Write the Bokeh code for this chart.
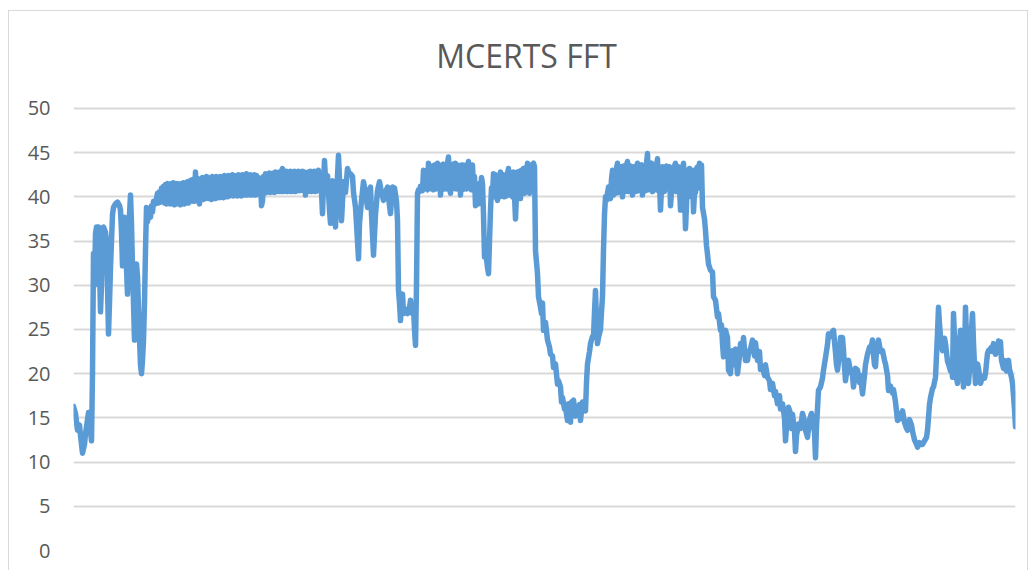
from bokeh.plotting import figure
from bokeh.models import Range1d, FixedTicker, Label
from bokeh.embed import file_html
from bokeh.resources import INLINE

title_text = "MCERTS FFT"
y_ticks = [0, 5, 10, 15, 20, 25, 30, 35, 40, 45, 50]

# ---- segment A: start-up (explicit sample index) ----
a_sample = [
    0, 2, 4, 6, 7, 9, 11, 12, 14, 15,
    17, 18, 19, 20, 21, 22, 23, 25, 26, 27,
    28, 29, 30, 32, 33, 34, 35, 36, 37, 38,
    39, 40, 42, 44, 46, 47, 48, 49, 50, 51,
    52, 53, 54, 55, 56, 57, 58, 59, 60, 61,
    62, 63, 64, 65, 66, 67, 68, 69, 70, 71,
    72, 73, 74, 75, 77, 78, 79, 80, 82, 84,
]
a_fft = [
    16.3, 15.5, 13.6, 14.2, 13.0, 11.0, 12.0, 13.2, 14.8, 15.6,
    13.5, 12.4, 20.0, 33.6, 30.0, 35.8, 36.6, 36.6, 32.0, 27.0,
    30.0, 35.0, 36.6, 36.0, 35.0, 30.0, 24.5, 28.0, 32.0, 35.0,
    38.0, 38.8, 39.2, 39.4, 39.0, 38.5, 36.0, 32.2, 35.0, 37.7,
    36.0, 32.0, 29.0, 34.0, 38.0, 40.2, 37.0, 32.0, 28.0, 23.8,
    28.0, 32.4, 31.0, 27.5, 24.0, 21.0, 20.0, 21.5, 23.8, 28.0,
    34.0, 38.8, 37.2, 38.2, 37.7, 39.0, 38.3, 39.5, 39.2, 40.4,
]

# ---- segment B: first plateau, one reading per sample from b_start ----
b_start = 85
b_fft = [
    39.3, 40.6, 39.4, 41.0, 39.5, 41.2, 39.3, 41.4, 39.2, 41.5,
    39.3, 41.4, 39.2, 41.5, 39.3, 41.6, 39.1, 41.4, 39.2, 41.5,
    39.4, 41.3, 39.1, 41.5, 39.3, 41.6, 39.2, 41.5, 39.4, 41.7,
    39.3, 41.8, 39.5, 41.9, 39.6, 42.0, 39.5, 42.8, 39.7, 42.1,
    39.6, 39.2, 42.0, 39.8, 42.2, 39.7, 42.1, 39.8, 42.3, 39.9,
    42.2, 39.8, 42.1, 39.7, 42.3, 39.9, 42.2, 39.8, 42.3, 40.0,
    42.2, 39.9, 42.3, 40.0, 42.2, 39.9, 42.4, 40.1, 42.3, 40.0,
    42.4, 40.1, 42.3, 40.2, 42.5, 40.1, 42.4, 40.2, 42.3, 40.1,
    42.5, 40.2, 42.4, 40.1, 42.5, 40.3, 42.4, 40.2, 42.6, 40.2,
    42.4, 40.3, 42.5, 40.2, 42.4, 40.3, 42.5, 40.2, 42.4, 40.3,
    42.2, 40.4, 41.8, 39.0, 39.5, 42.3, 40.4, 42.6, 40.5, 42.5,
    40.6, 42.7, 40.5, 42.6, 40.6, 42.7, 40.5, 42.8, 40.6, 42.7,
    40.7, 42.8, 40.6, 42.9, 43.2, 40.6, 42.8, 40.7, 42.9, 40.6,
    42.8, 40.7, 42.9, 40.6, 42.8, 40.7, 42.9, 40.6, 42.8, 40.8,
    42.9, 40.7, 42.8, 40.8, 42.9, 40.7, 42.8, 40.2, 42.7, 40.6,
    42.8, 40.7, 42.9, 40.6, 42.8, 40.7, 42.9, 40.6, 42.8, 40.7,
    43.0, 41.0, 42.6, 40.5, 38.1, 41.5, 44.1, 42.0, 41.0, 42.4,
    40.5, 38.5, 37.0,
]

# ---- segment C: disturbed section and first drop ----
c_sample = [
    258, 259, 260, 262, 263, 265, 266, 268, 269, 270,
    272, 274, 276, 277, 279, 280, 282, 284, 285, 286,
    288, 290, 292, 294, 295, 297, 298, 300, 302, 304,
    306, 308, 310, 312, 314, 316, 317, 319, 321, 323,
    324, 325, 326, 327, 328, 329, 330, 332, 334, 336,
    337, 338, 339, 340, 341, 342, 343,
]
c_fft = [
    41.5, 41.8, 39.0, 36.6, 40.0, 44.7, 42.0, 37.3, 39.5, 41.7,
    40.5, 43.2, 42.5, 42.6, 42.3, 40.5, 38.8, 35.0, 33.0, 37.0,
    39.6, 41.7, 40.5, 38.8, 40.5, 41.1, 38.0, 33.4, 38.0, 40.7,
    41.7, 40.5, 39.6, 40.5, 41.1, 39.0, 38.1, 41.1, 41.0, 39.5,
    37.3, 29.4, 28.0, 26.0, 28.5, 29.0, 26.8, 27.3, 26.8, 27.5,
    28.3, 27.0, 26.8, 27.5, 25.0, 23.2, 30.0,
]

# ---- segment D: second and third plateaus, one reading per sample ----
d_start = 344
d_fft = [
    40.4, 40.8, 40.6, 41.2, 41.0, 40.7, 43.0, 41.2, 42.5, 41.0,
    40.8, 43.8, 41.0, 42.8, 40.9, 43.5, 40.8, 43.6, 40.9, 43.4,
    43.8, 40.9, 43.6, 40.2, 43.5, 40.8, 43.7, 41.0, 43.6, 40.9,
    43.8, 44.5, 41.0, 40.4, 43.6, 40.9, 43.7, 41.0, 43.8, 40.9,
    43.6, 41.0, 43.5, 40.2, 43.6, 40.8, 43.6, 41.0, 43.5, 40.9,
    43.6, 44.0, 41.0, 43.4, 40.8, 43.6, 41.0, 42.3, 39.0, 40.5,
    39.8, 39.2, 41.5, 40.6, 42.2, 41.5, 38.0, 33.2, 34.0, 33.0,
    32.0, 31.3, 35.0, 38.5, 41.0, 40.2, 42.6, 40.0, 42.5, 40.1,
    39.6, 42.4, 40.0, 42.8, 40.1, 40.2, 42.5, 40.0, 42.2, 40.1,
    42.6, 43.2, 40.2, 42.7, 40.3, 40.0, 42.8, 40.2, 37.5, 40.4,
    42.8, 40.3, 42.9, 39.8, 43.0, 40.5, 43.2, 40.4, 43.3, 40.6,
    43.8, 41.0, 40.4, 43.6, 41.0, 43.6, 43.8, 43.4,
]

# ---- segment E: long descent and valley ----
e_sample = [
    462, 464, 465, 467, 468, 469, 470, 472, 474,
    476, 477, 479, 480, 482, 484, 485, 487, 488, 489,
    491, 492, 494, 495, 497, 498, 500, 502, 504, 506,
    507, 509, 510, 512, 513, 514, 516, 517, 519, 520,
    521, 522, 523, 524, 525, 527, 528, 529, 530, 531,
]
e_fft = [
    33.9, 31.3, 28.7, 27.5, 26.8, 28.0, 24.9, 25.8, 23.8,
    23.0, 22.2, 22.0, 20.7, 21.1, 18.8, 19.2, 18.5, 16.8, 17.3,
    16.0, 16.2, 14.7, 16.6, 14.5, 16.8, 17.0, 15.2, 15.8, 16.5,
    14.7, 16.8, 16.5, 15.8, 19.0, 21.1, 22.5, 23.4, 24.2, 24.1,
    27.0, 29.4, 26.0, 23.4, 24.1, 25.0, 27.0, 28.7, 34.0, 38.0,
]

# ---- segment F: fourth plateau, one reading per sample ----
f_start = 532
f_fft = [
    40.0, 39.6, 40.4, 41.1, 40.2, 39.8, 42.0, 43.0, 40.2, 42.6,
    40.4, 43.2, 43.8, 40.5, 41.5, 43.4, 42.2, 40.0, 43.5, 42.8,
    40.6, 43.6, 44.0, 40.6, 41.3, 43.5, 43.2, 40.2, 43.4, 42.6,
    40.6, 43.4, 43.8, 40.7, 41.6, 43.5, 43.6, 40.2, 43.4, 42.6,
    40.7, 43.8, 44.9, 40.8, 42.0, 43.6, 43.8, 40.6, 43.4, 43.2,
    40.8, 43.6, 44.3, 40.7, 41.5, 38.5, 41.0, 43.4, 43.0, 40.6,
    41.6, 43.5, 43.3, 41.0, 43.4, 39.0, 40.5, 42.5, 40.8, 43.5,
    43.8, 40.6, 40.8, 43.4, 41.2, 38.5, 40.6, 42.6, 43.8, 40.5,
    36.4, 39.0, 43.0, 40.0, 43.2, 42.5, 40.2, 43.0, 38.3, 40.5,
    40.5, 43.2, 43.4, 41.0, 43.8, 41.5, 43.6, 38.8,
]

# ---- segment G: final decline and lower-level cycles ----
g_sample = [
    631, 632, 633, 634, 635, 637, 639, 640, 642, 644,
    645, 647, 648, 649, 650, 652, 654, 655, 657, 658,
    659, 661, 662, 664, 666, 667, 669, 670, 672, 674,
    675, 677, 679, 681, 682, 684, 686, 687, 689, 691,
    692, 694, 696, 697, 699, 701, 702, 704, 706, 707,
    709, 711, 712, 713, 715, 717, 718, 719, 721, 722,
    723, 725, 727, 729, 730, 732, 734, 736, 738, 739,
    741, 742, 743, 745, 747, 749, 750, 752, 754, 755,
    757, 759, 760, 762, 763, 764, 766, 767, 769, 770,
    771, 772, 774, 775, 777, 779, 780, 782, 784, 786,
    787, 789, 791, 792, 794, 796, 797, 799, 800, 801,
    802, 803, 805, 807, 809, 811, 812, 814, 815, 817,
    819, 820, 822, 824, 825, 827, 829, 831, 833, 834,
    836, 838, 839, 841, 843, 844, 846, 848, 849, 851,
    853, 854, 856, 857, 859, 860, 862, 864, 865, 866,
    867, 868, 869, 871, 872, 874, 875, 877, 878, 879,
    880, 881, 882, 883, 884, 885, 886, 887, 888, 889,
    890, 891, 892, 893, 894, 895, 897, 898, 899, 900,
    901, 902, 904, 905, 907, 909, 911, 912, 913, 914,
    915, 917, 918, 919, 920, 922, 924, 925, 926, 927,
    928, 930, 931, 933, 935, 936, 938, 939, 940, 941,
    942,
]
g_fft = [
    37.5, 36.2, 34.5, 33.5, 32.4, 31.7, 31.5, 28.7, 28.3, 26.4,
    26.8, 24.9, 25.5, 23.4, 21.9, 24.9, 24.1, 20.4, 20.0, 22.0,
    22.6, 21.0, 22.8, 20.0, 22.0, 23.4, 22.5, 24.1, 21.5, 21.5,
    22.3, 22.8, 23.8, 22.0, 23.5, 21.5, 22.5, 20.5, 20.8, 19.8,
    21.0, 19.6, 19.2, 18.2, 18.9, 17.5, 18.0, 16.6, 17.5, 16.0,
    16.6, 15.0, 12.4, 14.0, 16.2, 15.5, 13.8, 15.4, 13.5, 11.2,
    13.0, 14.3, 13.8, 15.5, 15.1, 13.6, 12.8, 14.8, 15.5, 14.5,
    13.4, 10.5, 14.0, 18.1, 18.5, 19.5, 20.4, 21.8, 23.3, 24.5,
    24.2, 24.8, 24.9, 22.4, 21.0, 20.4, 22.3, 24.1, 24.1, 22.6,
    20.8, 19.2, 21.0, 21.5, 20.3, 19.8, 18.5, 20.6, 20.4, 19.0,
    19.8, 17.7, 19.8, 21.0, 22.2, 23.0, 22.6, 23.8, 22.2, 21.0,
    20.8, 22.7, 23.8, 22.5, 22.6, 21.5, 21.1, 19.8, 18.1, 18.6,
    17.8, 18.2, 16.8, 14.7, 15.5, 14.9, 15.8, 14.5, 13.8, 13.6,
    14.8, 14.2, 13.5, 12.5, 12.0, 11.7, 12.2, 12.0, 12.0, 12.4,
    12.8, 13.6, 16.5, 17.3, 18.3, 18.5, 19.6, 24.5, 27.5, 25.6,
    24.2, 23.3, 22.6, 24.0, 23.4, 21.4, 21.1, 20.3, 20.8, 19.6,
    26.8, 24.0, 21.0, 19.5, 18.9, 21.0, 23.5, 24.9, 22.0, 20.5,
    18.5, 22.0, 27.5, 24.0, 21.5, 18.9, 22.0, 25.0, 26.8, 23.5,
    21.0, 18.9, 21.1, 20.6, 18.9, 19.7, 19.5, 20.0, 21.2, 22.3,
    22.6, 22.8, 23.0, 22.5, 23.4, 22.2, 22.6, 23.7, 22.8, 23.6,
    21.5, 20.6, 21.5, 20.3, 21.5, 20.5, 19.6, 18.9, 17.5, 16.0,
    14.0,
]

sample = (a_sample
          + list(range(b_start, b_start + len(b_fft)))
          + c_sample
          + list(range(d_start, d_start + len(d_fft)))
          + e_sample
          + list(range(f_start, f_start + len(f_fft)))
          + g_sample)
fft = a_fft + b_fft + c_fft + d_fft + e_fft + f_fft + g_fft

x_max = 942
# the value range is extended above 50 so the title sits inside the plot frame
y_top = 58.7

p = figure(
    width=1020, height=560,
    output_backend="svg", toolbar_location=None,
    x_range=Range1d(0, x_max), y_range=Range1d(0, y_top),
    min_border_left=64, min_border_right=14,
    min_border_top=20, min_border_bottom=21,
    background_fill_color="white", border_fill_color="white",
)
p.styles = {
    "margin-left": "8px",
    "margin-top": "10px",
    "border-left": "1px solid #d9d9d9",
    "border-top": "1px solid #d9d9d9",
    "border-right": "1px solid #d9d9d9",
}

p.add_layout(Label(
    x=453, y=56.0, x_units="data", y_units="data",
    text=title_text, text_align="center", text_baseline="alphabetic",
    text_font="Open Sans", text_font_size="32px", text_color="#595959",
))

p.line(sample, fft, line_color="#5B9BD5", line_width=5.5,
       line_join="round", line_cap="round")

p.outline_line_color = None
p.xaxis.visible = False
p.xgrid.grid_line_color = None
p.ygrid.grid_line_color = "#d9d9d9"
p.ygrid.grid_line_width = 2

p.yaxis.ticker = FixedTicker(ticks=y_ticks)
p.yaxis.axis_line_color = None
p.yaxis.major_tick_line_color = None
p.yaxis.minor_tick_line_color = None
p.yaxis.major_tick_out = 0
p.yaxis.major_tick_in = 0
p.yaxis.major_label_standoff = 23
p.yaxis.major_label_text_font = "Open Sans"
p.yaxis.major_label_text_font_size = "20px"
p.yaxis.major_label_text_color = "#595959"

open("out.html", "w").write(file_html(p, INLINE))
